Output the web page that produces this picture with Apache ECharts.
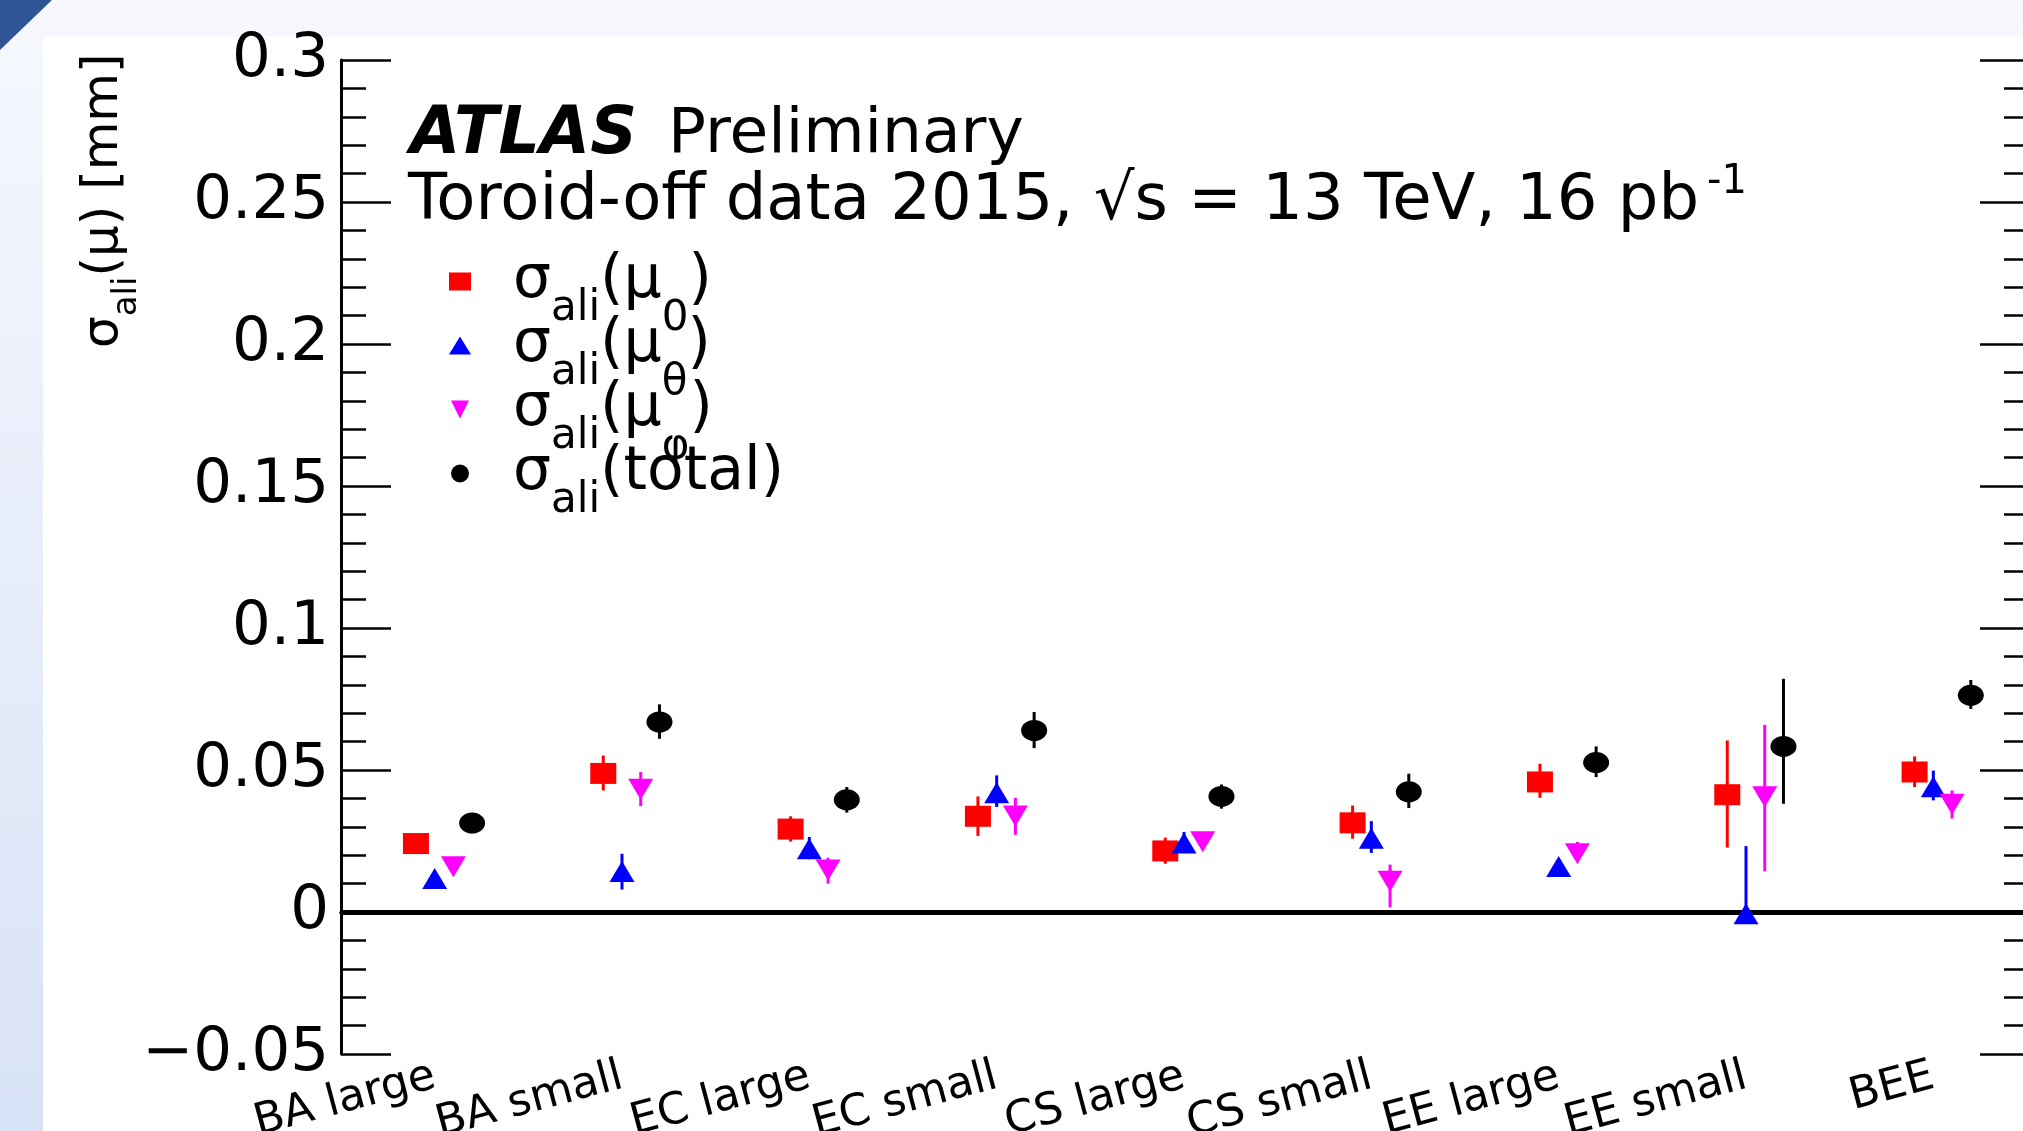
<!DOCTYPE html>
<html>
<head>
<meta charset="utf-8">
<title>ATLAS toroid-off alignment</title>
<script src="https://cdn.jsdelivr.net/npm/echarts@6/dist/echarts.min.js"></script>
<style>
html, body { margin: 0; padding: 0; width: 2023px; height: 1131px; overflow: hidden;
  background: linear-gradient(to bottom, #f6f8fe 0%, #d8e2f6 100%); }
#panel { position: absolute; left: 43px; top: 37px; right: 0; bottom: 0; background: #fff; }
#corner { position: absolute; left: 0; top: 0; width: 52px; height: 50px; background: #2f5597;
  clip-path: polygon(0 0, 100% 0, 0 100%); }
#one1 { position: absolute; left: 0; top: 0; width: 2023px; height: 1131px; }
</style>
</head>
<body>
<div id="panel"></div>
<div id="corner"></div>
<div id="one1"></div>
<script>
var categories = ['BA large', 'BA small', 'EC large', 'EC small', 'CS large', 'CS small', 'EE large', 'EE small', 'BEE'];

// sigma_ali(mu_0)  - red squares
var mu0Val = [0.0241, 0.0488, 0.0292, 0.0337, 0.0215, 0.0314, 0.0458, 0.0413, 0.0493];
var mu0Lo  = [0.0226, 0.0428, 0.0248, 0.0268, 0.0170, 0.0258, 0.0402, 0.0227, 0.0440];
var mu0Hi  = [0.0256, 0.0551, 0.0337, 0.0407, 0.0262, 0.0375, 0.0522, 0.0604, 0.0548];

// sigma_ali(mu_theta) - blue triangles
var muThetaVal = [0.0118, 0.0143, 0.0223, 0.0420, 0.0243, 0.0260, 0.0160, -0.0006, 0.0441];
var muThetaLo  = [0.0106, 0.0079, 0.0186, 0.0370, 0.0210, 0.0208, 0.0148, -0.0030, 0.0393];
var muThetaHi  = [0.0130, 0.0205, 0.0264, 0.0481, 0.0282, 0.0320, 0.0172, 0.0232, 0.0498];

// sigma_ali(mu_phi) - magenta triangles
var muPhiVal = [0.0159, 0.0432, 0.0148, 0.0338, 0.0247, 0.0108, 0.0205, 0.0406, 0.0379];
var muPhiLo  = [0.0146, 0.0373, 0.0100, 0.0272, 0.0234, 0.0016, 0.0183, 0.0143, 0.0329];
var muPhiHi  = [0.0172, 0.0493, 0.0191, 0.0402, 0.0260, 0.0167, 0.0247, 0.0659, 0.0428];

// sigma_ali(total) - black dots
var totalVal = [0.0313, 0.0669, 0.0395, 0.0639, 0.0407, 0.0423, 0.0526, 0.0583, 0.0763];
var totalLo  = [0.0300, 0.0610, 0.0350, 0.0577, 0.0364, 0.0366, 0.0475, 0.0381, 0.0715];
var totalHi  = [0.0326, 0.0731, 0.0440, 0.0704, 0.0449, 0.0487, 0.0583, 0.0821, 0.0817];

var seriesNames = ['σali(μ0)', 'σali(μθ)', 'σali(μφ)', 'σali(total)'];
var legendArgs = [['μ', '0'], ['μ', 'θ'], ['μ', 'φ'], ['total', '']];

var yMin = -0.05, yMax = 0.3, yStep = 0.05;

var FONT = 'DejaVu Sans';

function markerShape(kind, x, y) {
	if (kind === 'square') {
		return { type: 'rect', shape: { x: x - 13, y: y - 10.5, width: 26, height: 21 } };
	}
	if (kind === 'up') {
		return { type: 'polygon', shape: { points: [[x - 12.5, y + 10.5], [x + 12.5, y + 10.5], [x, y - 10.5]] } };
	}
	if (kind === 'down') {
		return { type: 'polygon', shape: { points: [[x - 12.5, y - 10.5], [x + 12.5, y - 10.5], [x, y + 10.5]] } };
	}
	return { type: 'circle', x: x, y: y, scaleX: 13 / 10.5, shape: { cx: 0, cy: 0, r: 10.5 } };
}

function pointSeries(name, vals, lows, highs, color, shift, kind) {
	return {
		name: name,
		type: 'custom',
		z: 3,
		itemStyle: { color: color },
		data: vals.map(function (v, i) { return [i, v, lows[i], highs[i]]; }),
		encode: { x: 0, y: [1, 2, 3] },
		renderItem: function (params, api) {
			var band = api.size([1, 0])[0];
			var p = api.coord([api.value(0), api.value(1)]);
			var lo = api.coord([api.value(0), api.value(2)]);
			var hi = api.coord([api.value(0), api.value(3)]);
			var x = p[0] + shift * band;
			var mark = markerShape(kind, x, p[1]);
			mark.style = { fill: color };
			return {
				type: 'group',
				children: [
					{ type: 'line', shape: { x1: x, y1: lo[1], x2: x, y2: hi[1] },
					  style: { stroke: color, lineWidth: 3 } },
					mark
				]
			};
		}
	};
}

var myChart = echarts.init(document.getElementById('one1'));

var series = [
	pointSeries(seriesNames[0], mu0Val, mu0Lo, mu0Hi, '#ff0000', -0.1, 'square'),
	pointSeries(seriesNames[1], muThetaVal, muThetaLo, muThetaHi, '#0000ff', 0, 'up'),
	pointSeries(seriesNames[2], muPhiVal, muPhiLo, muPhiHi, '#ff00ff', 0.1, 'down'),
	pointSeries(seriesNames[3], totalVal, totalLo, totalHi, '#000000', 0.2, 'dot')
];
// zero line
series[3].markLine = {
	silent: true, symbol: 'none', z: 1,
	label: { show: false },
	lineStyle: { color: '#000', width: 5, type: 'solid' },
	data: [{ yAxis: 0 }]
};

var tickStyle = { color: '#000', width: 2.5 };
var lineStyle = { color: '#000', width: 3 };

var option = {
	animation: false,
	textStyle: { fontFamily: FONT },
	grid: { left: 341, right: -4, top: 60, bottom: 77, outerBoundsMode: 'none', containLabel: false },
	legend: {
		orient: 'vertical', left: 449, top: 213, padding: 0, itemGap: -73,
		itemWidth: 22, itemHeight: 18, selectedMode: false,
		data: [
			{ name: seriesNames[0], icon: 'rect' },
			{ name: seriesNames[1], icon: 'triangle' },
			{ name: seriesNames[2], icon: 'path://M0,0L2,0L1,2Z' },
			{ name: seriesNames[3], icon: 'path://M0,10A10,10 0 1,1 20,10A10,10 0 1,1 0,10Z' }
		],
		formatter: function (name) {
			var a = legendArgs[seriesNames.indexOf(name)];
			return '{m0|σ}{a|ali}{m|(' + a[0] + '}' + (a[1] ? '{b|' + a[1] + '}' : '') + '{m|)}';
		},
		textStyle: {
			color: '#000', fontFamily: FONT,
			rich: {
				m0: { fontSize: 60, padding: [0, 0, 0, 37], fontFamily: FONT, color: '#000' },
				m: { fontSize: 60, fontFamily: FONT, color: '#000' },
				a: { fontSize: 42, lineHeight: 42, padding: [75, 0, 20, 0], fontFamily: FONT, color: '#000' },
				b: { fontSize: 42, lineHeight: 42, padding: [85, 0, 10, 0], fontFamily: FONT, color: '#000' }
			}
		}
	},
	xAxis: [{
		type: 'category', position: 'bottom', data: categories,
		axisLine: { lineStyle: lineStyle },
		axisTick: { alignWithLabel: true, inside: true, length: 30, lineStyle: tickStyle },
		axisLabel: { interval: 0, rotate: 15, margin: 22, fontSize: 44, color: '#000', fontFamily: FONT },
		splitLine: { show: false }
	}, {
		type: 'category', position: 'top', data: categories,
		axisLine: { lineStyle: lineStyle },
		axisTick: { alignWithLabel: true, inside: true, length: 30, lineStyle: tickStyle },
		axisLabel: { show: false },
		splitLine: { show: false }
	}],
	yAxis: [{
		type: 'value', position: 'left', min: yMin, max: yMax, interval: yStep,
		axisLine: { show: true, lineStyle: lineStyle },
		axisTick: { show: true, inside: true, length: 50, lineStyle: tickStyle },
		minorTick: { show: true, splitNumber: 5, length: 25, lineStyle: tickStyle },
		axisLabel: {
			fontSize: 61, margin: 12, color: '#000', fontFamily: FONT,
			formatter: function (v) { return String(+v.toFixed(2)).replace('-', '\u2212'); }
		},
		splitLine: { show: false }
	}, {
		type: 'value', position: 'right', min: yMin, max: yMax, interval: yStep,
		axisLine: { show: true, lineStyle: lineStyle },
		axisTick: { show: true, inside: true, length: 47, lineStyle: tickStyle },
		minorTick: { show: true, splitNumber: 5, length: 23, lineStyle: tickStyle },
		axisLabel: { show: false },
		splitLine: { show: false }
	}],
	graphic: [{
		type: 'text', x: 410, y: 136,
		style: { text: 'ATLAS', fontFamily: FONT, fontSize: 65, fontWeight: 'bold', fontStyle: 'italic',
			fill: '#000', verticalAlign: 'middle' }
	}, {
		type: 'text', x: 668, y: 136,
		style: { text: 'Preliminary', fontFamily: FONT, fontSize: 63, fill: '#000', verticalAlign: 'middle' }
	}, {
		type: 'text', x: 408, y: 202,
		style: {
			text: '{m|Toroid-off data 2015, √s = 13 TeV, 16 pb}{s|-1}',
			verticalAlign: 'middle',
			rich: {
				m: { fontFamily: FONT, fontSize: 64, fill: '#000' },
				s: { fontFamily: FONT, fontSize: 40, lineHeight: 40, padding: [0, 0, 38, 8], fill: '#000' }
			}
		}
	}, {
		type: 'text', x: 104, y: 348, rotation: Math.PI / 2,
		style: {
			text: '{m|σ}{a|ali}{m|(μ) [mm]}',
			align: 'left', verticalAlign: 'middle',
			rich: {
				m: { fontFamily: FONT, fontSize: 50, fill: '#000' },
				a: { fontFamily: FONT, fontSize: 34, lineHeight: 34, padding: [46, 0, 0, 0], fill: '#000' }
			}
		}
	}],
	series: series
};
myChart.setOption(option);
</script>
</body>
</html>
